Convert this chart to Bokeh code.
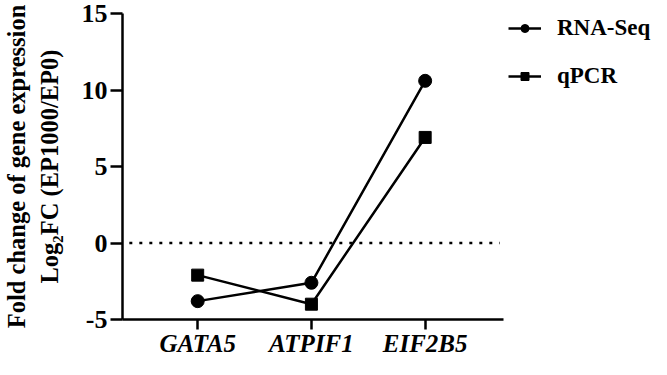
from bokeh.plotting import figure
from bokeh.models import (Range1d, FixedTicker, Legend, LegendItem,
                          ColumnDataSource)
from bokeh.embed import file_html
from bokeh.resources import INLINE

# ---- data ----
genes = ["GATA5", "ATPIF1", "EIF2B5"]
rna_seq = [-3.8, -2.6, 10.6]
qpcr = [-2.1, -4.0, 6.9]
y_ticks = [-5, 0, 5, 10, 15]
series_names = ["RNA-Seq", "qPCR"]
ylabel = "Fold change of gene expression\nLog\u2082FC (EP1000/EP0)"

xs = list(range(1, len(genes) + 1))
src = ColumnDataSource(dict(x=xs, rna=rna_seq, qpcr=qpcr))

FONT = "Liberation Serif"
X_AXIS_START, X_AXIS_END = 0.339, 3.687   # extent of the drawn x axis
X_VIEW_END = 4.99                          # room on the right for the legend

p = figure(width=651, height=359, output_backend="svg", toolbar_location=None,
           x_range=Range1d(X_AXIS_START, X_VIEW_END), y_range=Range1d(-5, 15),
           min_border_left=109, min_border_right=0, min_border_top=13,
           min_border_bottom=38)
p.outline_line_color = None
p.xgrid.visible = False
p.ygrid.visible = False
p.background_fill_color = "white"
p.border_fill_color = "white"

# axes
for ax in (p.xaxis[0], p.yaxis[0]):
    ax.axis_line_width = 2.5
    ax.axis_line_color = "black"
    ax.major_tick_line_width = 2.5
    ax.major_tick_line_color = "black"
    ax.major_tick_in = 0
    ax.minor_tick_line_color = None
    ax.major_label_text_font = FONT
    ax.major_label_text_color = "black"

p.yaxis[0].ticker = FixedTicker(ticks=y_ticks)
p.yaxis[0].major_tick_out = 12
p.yaxis[0].major_label_overrides = {t: str(t) for t in y_ticks}
p.yaxis[0].major_label_text_font_size = "26px"
p.yaxis[0].major_label_text_font_style = "bold"
p.yaxis[0].major_label_standoff = 3
p.yaxis[0].axis_label = ylabel
p.yaxis[0].axis_label_text_font = FONT
p.yaxis[0].axis_label_text_font_style = "bold"
p.yaxis[0].axis_label_text_font_size = "24.5px"
p.yaxis[0].axis_label_text_color = "black"
p.yaxis[0].axis_label_standoff = 16

p.xaxis[0].ticker = FixedTicker(ticks=xs)
p.xaxis[0].bounds = (X_AXIS_START, X_AXIS_END)
p.xaxis[0].major_tick_out = 10
p.xaxis[0].major_label_overrides = {x: g for x, g in zip(xs, genes)}
p.xaxis[0].major_label_text_font_size = "25px"
p.xaxis[0].major_label_text_font_style = "bold italic"
p.xaxis[0].major_label_standoff = 0

# zero dotted reference line across the axis extent
p.line([X_AXIS_START + 0.06, X_AXIS_END - 0.03], [0, 0], line_color="black",
       line_width=2.5, line_dash="3 7")

# series
l1 = p.line("x", "rna", source=src, line_color="black", line_width=2.5)
m1 = p.scatter("x", "rna", source=src, marker="circle", size=13,
               fill_color="black", line_color="black")
l2 = p.line("x", "qpcr", source=src, line_color="black", line_width=2.5)
m2 = p.scatter("x", "qpcr", source=src, marker="square", size=12,
               fill_color="black", line_color="black")

legend = Legend(items=[LegendItem(label=series_names[0], renderers=[l1, m1]),
                       LegendItem(label=series_names[1], renderers=[l2, m2])],
                location=(380, 224), margin=0, padding=6,
                glyph_width=33, glyph_height=20, label_height=20,
                label_standoff=16, spacing=22,
                label_text_font=FONT, label_text_font_style="bold",
                label_text_font_size="23px", label_text_color="black",
                background_fill_alpha=0, border_line_alpha=0)
p.add_layout(legend, "center")

open("out.html", "w").write(file_html(p, INLINE))
